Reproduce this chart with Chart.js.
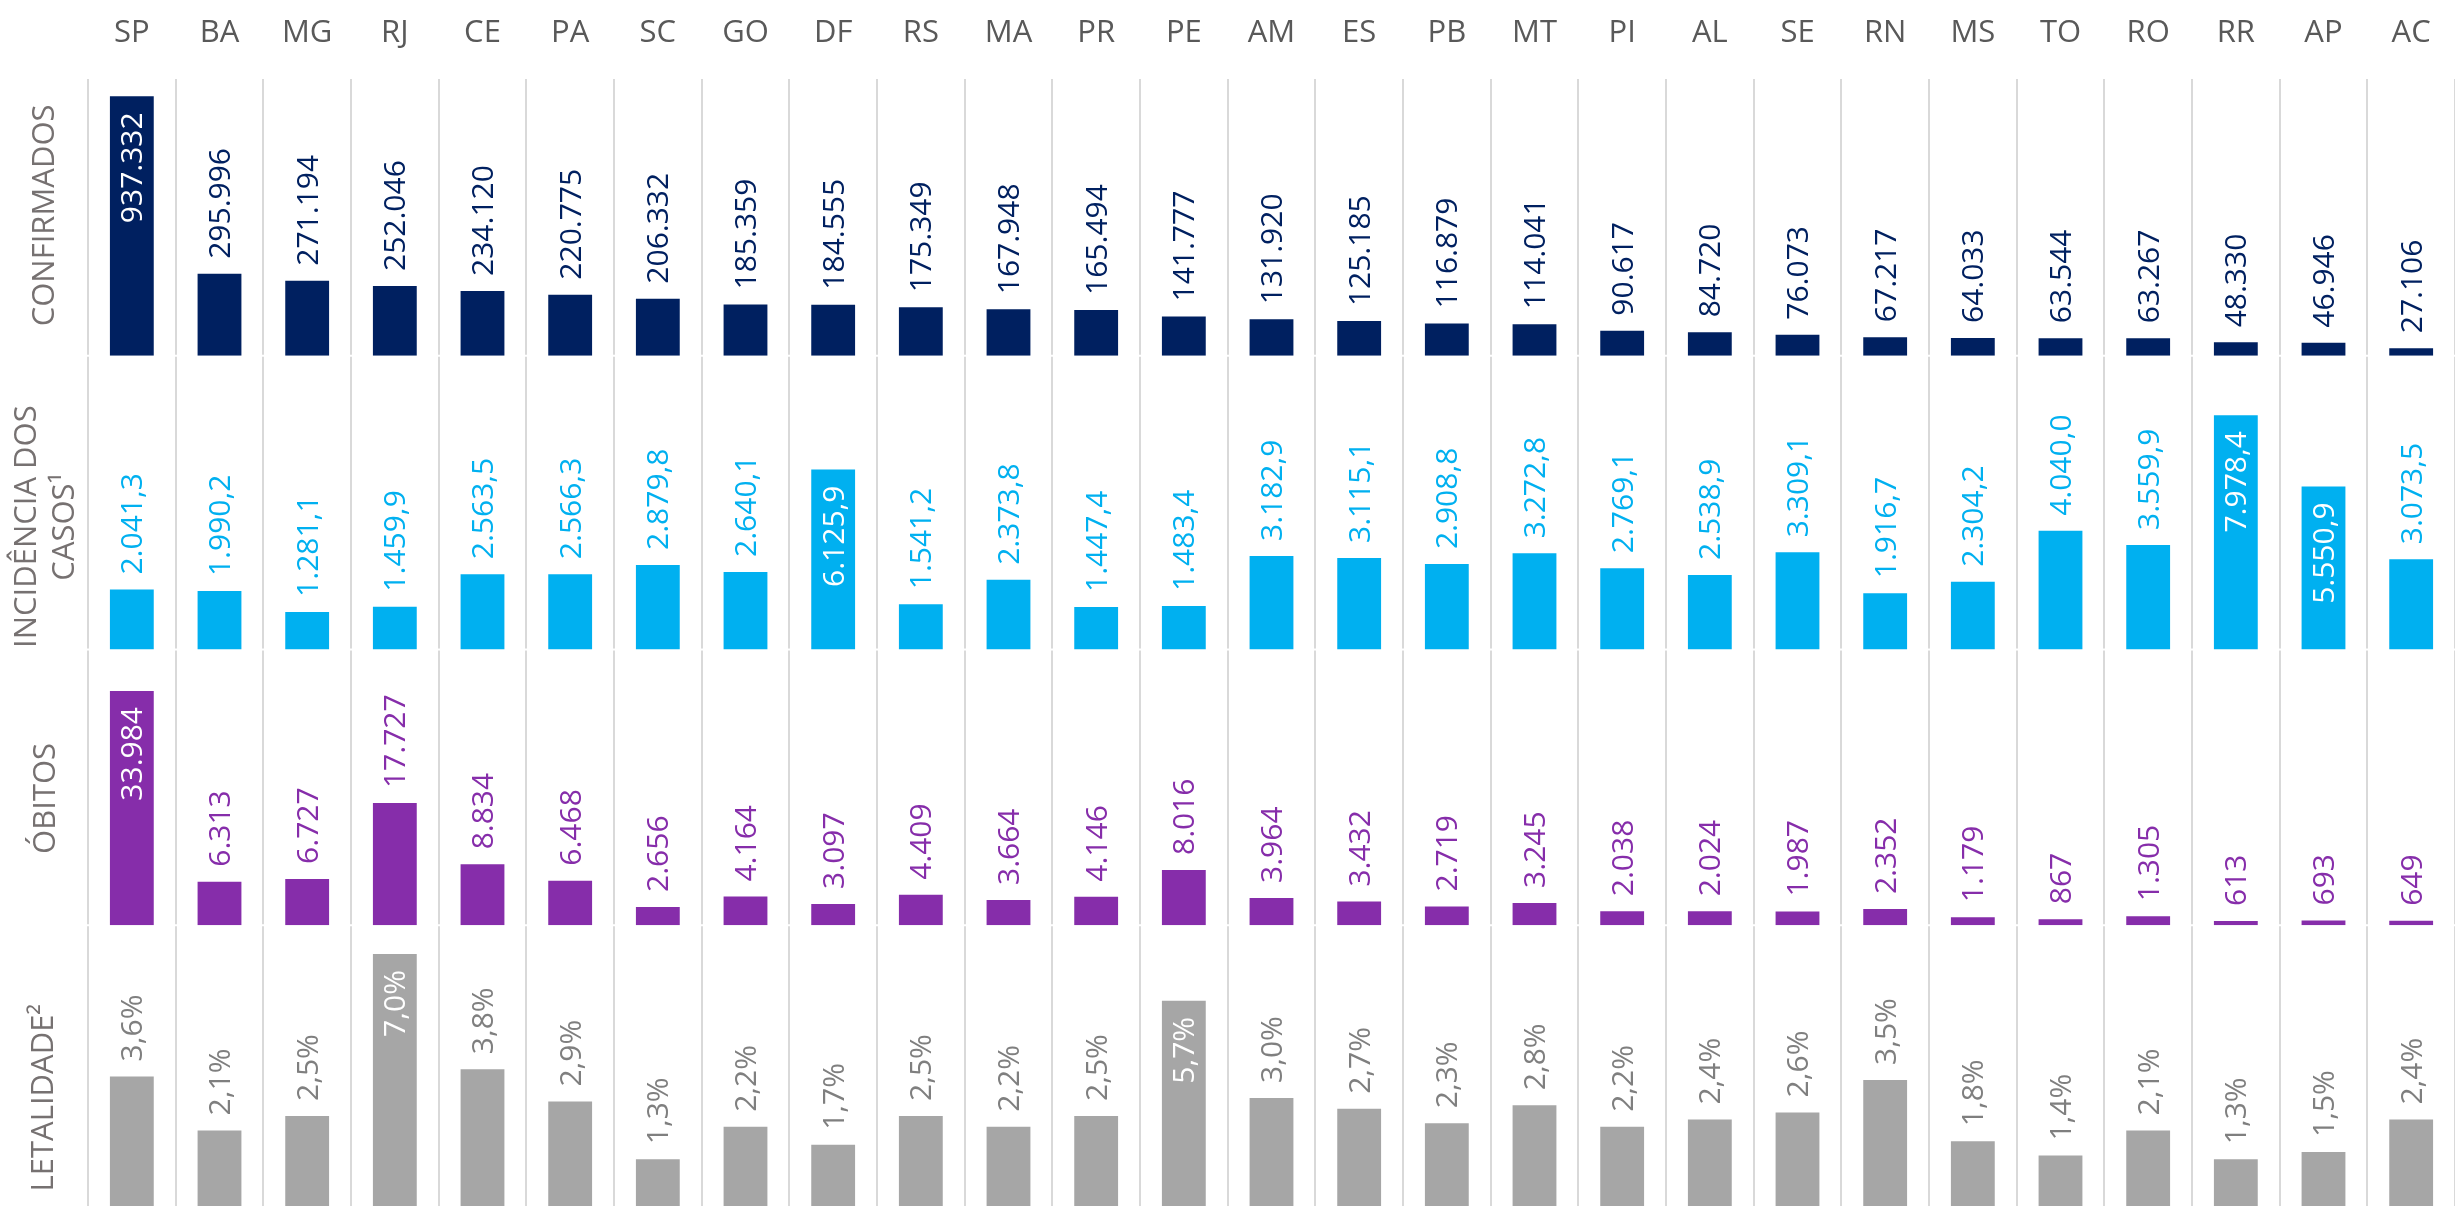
<!DOCTYPE html>
<html>
<head>
<meta charset="utf-8">
<script src="https://cdn.jsdelivr.net/npm/chart.js@4/dist/chart.umd.min.js"></script>
<style>
  html, body { margin: 0; padding: 0; background: #fff; }
  canvas { display: block; }
</style>
</head>
<body>
<canvas id="ufChart" width="2455" height="1206"></canvas>
<script>
const estados = ['SP', 'BA', 'MG', 'RJ', 'CE', 'PA', 'SC', 'GO', 'DF', 'RS', 'MA', 'PR', 'PE', 'AM',
    'ES', 'PB', 'MT', 'PI', 'AL', 'SE', 'RN', 'MS', 'TO', 'RO', 'RR', 'AP', 'AC'];

const confirmados = [937332, 295996, 271194, 252046, 234120, 220775, 206332, 185359, 184555, 175349,
    167948, 165494, 141777, 131920, 125185, 116879, 114041, 90617, 84720, 76073, 67217, 64033,
    63544, 63267, 48330, 46946, 27106];

const incidencia = [2041.3, 1990.2, 1281.1, 1459.9, 2563.5, 2566.3, 2879.8, 2640.1, 6125.9, 1541.2,
    2373.8, 1447.4, 1483.4, 3182.9, 3115.1, 2908.8, 3272.8, 2769.1, 2538.9, 3309.1, 1916.7, 2304.2,
    4040.0, 3559.9, 7978.4, 5550.9, 3073.5];

const obitos = [33984, 6313, 6727, 17727, 8834, 6468, 2656, 4164, 3097, 4409, 3664, 4146, 8016, 3964,
    3432, 2719, 3245, 2038, 2024, 1987, 2352, 1179, 867, 1305, 613, 693, 649];

const letalidade = [3.6, 2.1, 2.5, 7.0, 3.8, 2.9, 1.3, 2.2, 1.7, 2.5, 2.2, 2.5, 5.7, 3.0, 2.7, 2.3,
    2.8, 2.2, 2.4, 2.6, 3.5, 1.8, 1.4, 2.1, 1.3, 1.5, 2.4];

// pt-BR style numbers: 1.234,5
function fmtNum(v, dec) {
    const parts = v.toFixed(dec).split('.');
    const inteiro = parts[0].replace(/\B(?=(\d{3})+(?!\d))/g, '.');
    return parts.length > 1 ? inteiro + ',' + parts[1] : inteiro;
}

const formatos = [
    v => fmtNum(v, 0),
    v => fmtNum(v, 1),
    v => fmtNum(v, 0),
    v => fmtNum(v, 1) + '%'
];

const titulos = [
    { lines: ['CONFIRMADOS'], x: [45], dy: -2 },
    { lines: ['INCIDÊNCIA DOS', 'CASOS¹'], x: [27, 65], dy: 24 },
    { lines: ['ÓBITOS'], x: [46], dy: 11 },
    { lines: ['LETALIDADE²'], x: [44], dy: 32 }
];

const FONTE = '"Open Sans", "Segoe UI", sans-serif';
const ids = ['yConf', 'yInc', 'yObi', 'yLet'];

const rotulosBarras = {
    id: 'rotulosBarras',
    beforeDatasetsDraw(chart) {
        // small break in the column separators between rows
        const ctx = chart.ctx;
        const area = chart.chartArea;
        ctx.save();
        ctx.fillStyle = '#ffffff';
        ids.slice(0, 3).forEach(id => {
            const s = chart.scales[id];
            ctx.fillRect(area.left - 2, s.bottom - 1, area.right - area.left + 4, 2);
        });
        ctx.restore();
    },
    afterDatasetsDraw(chart) {
        const ctx = chart.ctx;
        chart.data.datasets.forEach((ds, i) => {
            const meta = chart.getDatasetMeta(i);
            const escala = chart.scales[ds.yAxisID];
            meta.data.forEach((bar, j) => {
                const v = ds.data[j];
                const dentro = v / escala.max > 0.5;
                ctx.save();
                ctx.translate(bar.x + 2, dentro ? bar.y + 16 : bar.y - 15);
                ctx.rotate(-Math.PI / 2);
                ctx.font = '30px ' + FONTE;
                ctx.textAlign = dentro ? 'right' : 'left';
                ctx.textBaseline = 'middle';
                ctx.fillStyle = dentro ? '#ffffff' : ds.backgroundColor;
                if (i === 3 && !dentro) ctx.fillStyle = '#7f7f7f';
                ctx.fillText(formatos[i](v), 0, 0);
                ctx.restore();
            });
        });
    },
    afterDraw(chart) {
        const ctx = chart.ctx;
        // state names across the top
        const x = chart.scales.x;
        ctx.save();
        ctx.font = '31px ' + FONTE;
        ctx.textAlign = 'center';
        ctx.textBaseline = 'middle';
        ctx.fillStyle = '#595959';
        estados.forEach((uf, i) => ctx.fillText(uf, x.getPixelForValue(i), 33));
        ctx.restore();
        // row titles
        ids.forEach((id, i) => {
            const s = chart.scales[id];
            const cy = (s.top + s.bottom) / 2 + titulos[i].dy;
            titulos[i].lines.forEach((linha, k) => {
                ctx.save();
                ctx.translate(titulos[i].x[k], cy);
                ctx.rotate(-Math.PI / 2);
                ctx.font = '31px ' + FONTE;
                ctx.textAlign = 'center';
                ctx.textBaseline = 'middle';
                ctx.fillStyle = '#767171';
                ctx.fillText(linha, 0, 0);
                ctx.restore();
            });
        });
    }
};

const ctx = document.getElementById('ufChart').getContext('2d');
new Chart(ctx, {
    type: 'bar',
    data: {
        labels: estados,
        datasets: [
            { label: 'Confirmados', data: confirmados, yAxisID: 'yConf', backgroundColor: '#002060' },
            { label: 'Incidência', data: incidencia, yAxisID: 'yInc', backgroundColor: '#00b0f0' },
            { label: 'Óbitos', data: obitos, yAxisID: 'yObi', backgroundColor: '#862daa' },
            { label: 'Letalidade', data: letalidade, yAxisID: 'yLet', backgroundColor: '#a6a6a6' }
        ]
    },
    options: {
        responsive: false,
        devicePixelRatio: 1,
        animation: false,
        layout: { padding: { left: 88, top: 79, right: 0, bottom: 0 } },
        datasets: {
            bar: { grouped: false, barPercentage: 1, categoryPercentage: 0.5, borderWidth: 0 }
        },
        plugins: {
            legend: { display: false },
            tooltip: { enabled: false }
        },
        scales: {
            x: {
                position: 'top',
                border: { display: false },
                grid: { offset: true, color: '#d9d9d9', lineWidth: 2, drawTicks: false },
                ticks: { display: false }
            },
            // left-side stacked axes are laid out last-first, so the bottom row comes first here
            yLet: { stack: 'linhas', stackWeight: 280, min: 0, max: 7.8, display: false },
            yObi: { stack: 'linhas', stackWeight: 275, min: 0, max: 40000, display: false },
            yInc: { stack: 'linhas', stackWeight: 293, min: 0, max: 10000, display: false },
            yConf: { stack: 'linhas', stackWeight: 276, min: 0, max: 1000000, display: false }
        }
    },
    plugins: [rotulosBarras]
});
</script>
</body>
</html>
